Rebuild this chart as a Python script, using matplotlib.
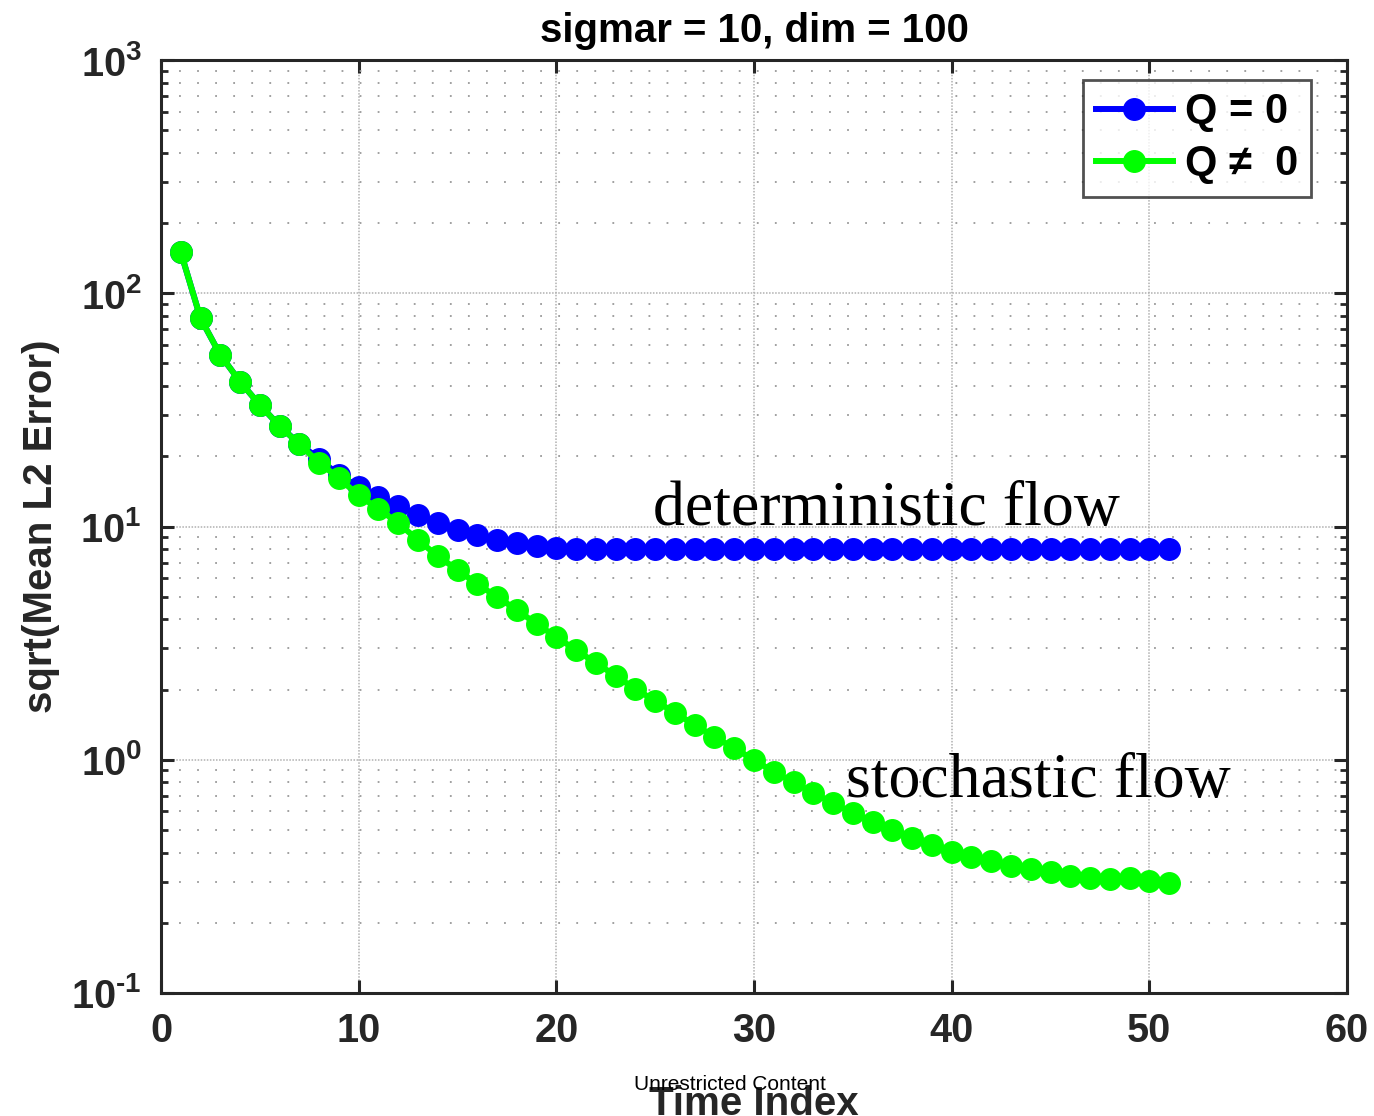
import math
import matplotlib
matplotlib.use("Agg")
import matplotlib.pyplot as plt
from matplotlib.ticker import LogLocator, FixedLocator, FuncFormatter, NullFormatter

plt.rcParams['font.family'] = ['Liberation Sans', 'DejaVu Sans']
plt.rcParams['mathtext.fontset'] = 'custom'
plt.rcParams['mathtext.rm'] = 'Liberation Sans:bold'
plt.rcParams['mathtext.bf'] = 'Liberation Sans:bold'
plt.rcParams['mathtext.it'] = 'Liberation Sans:bold'

# ---- data ----
time_index = list(range(1, 52))
err_q0 = [150, 78.1, 54.4, 41.8, 33.2, 27.0, 22.6, 19.5, 16.6, 14.8,
          13.4, 12.3, 11.2, 10.35, 9.66, 9.2, 8.75, 8.5, 8.25, 8.1,
          8.02, 8.0, 8.0, 8.0, 8.0, 8.0, 8.0, 8.0, 8.0, 8.0,
          8.0, 8.0, 8.0, 8.0, 8.0, 8.0, 8.0, 8.0, 8.0, 8.0,
          8.0, 8.0, 8.0, 8.0, 8.0, 8.0, 8.0, 8.0, 8.0, 8.0, 8.0]
err_qn0 = [150, 78.1, 54.4, 41.8, 33.2, 27.0, 22.5, 18.8, 16.1, 13.6,
           11.9, 10.35, 8.75, 7.47, 6.51, 5.67, 4.99, 4.39, 3.82, 3.36,
           2.95, 2.60, 2.29, 2.01, 1.79, 1.59, 1.41, 1.255, 1.12, 1.00,
           0.886, 0.803, 0.720, 0.653, 0.591, 0.541, 0.500, 0.462, 0.431, 0.402,
           0.383, 0.368, 0.350, 0.340, 0.330, 0.317, 0.311, 0.308, 0.311, 0.302, 0.296]
labels = ['Q = 0', 'Q \u2260  0']
x_ticks = [0, 10, 20, 30, 40, 50, 60]
title = 'sigmar = 10, dim = 100'
xlabel = 'Time Index'
ylabel = 'sqrt(Mean L2 Error)'


def log_fmt(v, p):
    e = int(round(math.log10(v)))
    if e < 0:
        return r'$10^{\text{-}%d}$' % (-e)
    return r'$10^{%d}$' % e


fig = plt.figure(figsize=(13.74, 11.16), dpi=100)
ax = fig.add_axes([161/1374, 1-993/1116, (1347-161)/1374, (993-60)/1116])

ax.plot(time_index, err_q0, '-o', color=(0, 0, 1), lw=4.3, ms=15.5,
        mec=(0, 0, 1), mfc=(0, 0, 1), label=labels[0], zorder=3)
ax.plot(time_index, err_qn0, '-o', color=(0, 1, 0), lw=4.3, ms=15.5,
        mec=(0, 1, 0), mfc=(0, 1, 0), label=labels[1], zorder=4)

ax.set_yscale('log')
ax.set_xlim(0, 60)
ax.set_ylim(0.1, 1000)
ax.xaxis.set_major_locator(FixedLocator(x_ticks))
ax.yaxis.set_major_locator(LogLocator(base=10, numticks=10))
ax.yaxis.set_minor_locator(LogLocator(base=10, subs=range(2, 10), numticks=20))
ax.yaxis.set_minor_formatter(NullFormatter())
ax.yaxis.set_major_formatter(FuncFormatter(log_fmt))

ax.grid(True, which='major', axis='both', color='#b0b0b0', linestyle=(0, (1, 1)), lw=1.1)
ax.grid(True, which='minor', axis='y', color='#999999', linestyle=(0, (1, 9)), lw=1.3)
ax.set_axisbelow(True)

for s in ax.spines.values():
    s.set_linewidth(2.2)
    s.set_color('#262626')
ax.tick_params(which='major', direction='in', length=9.5, width=2.2, color='#262626',
               top=True, right=True, labelsize=28.5, pad=14, labelcolor='#262626')
ax.tick_params(which='minor', direction='in', length=5, width=2.0, color='#262626',
               top=False, right=True, left=True)
for t in ax.get_xticklabels() + ax.get_yticklabels():
    t.set_fontweight('bold')

ax.set_title(title, fontsize=29, fontweight='bold', pad=13)
ax.set_xlabel(xlabel, fontsize=29, fontweight='bold', color='#262626', labelpad=25)
ax.set_ylabel(ylabel, fontsize=29, fontweight='bold', color='#262626', labelpad=8)

leg = ax.legend(loc='upper right', bbox_to_anchor=(1311/1374, 1-80/1116),
                bbox_transform=fig.transFigure, fontsize=30, frameon=True,
                fancybox=False, edgecolor='#262626', handlelength=1.85,
                borderaxespad=0, borderpad=0.3, labelspacing=0.28, handletextpad=0.3,
                markerscale=1.0)
leg.get_frame().set_linewidth(2.0)
for t in leg.get_texts():
    t.set_fontweight('bold')

ax.text(24.9, 10.15, 'deterministic flow', family='Liberation Serif', fontsize=46,
        va='baseline', ha='left', zorder=5)
ax.text(34.65, 0.692, 'stochastic flow', family='Liberation Serif', fontsize=46,
        va='baseline', ha='left', zorder=5)

fig.text(730/1374, 1-1085/1116, 'Unrestricted Content', fontsize=15,
         ha='center', va='center', zorder=10)

fig.savefig('out.png', dpi=100)
